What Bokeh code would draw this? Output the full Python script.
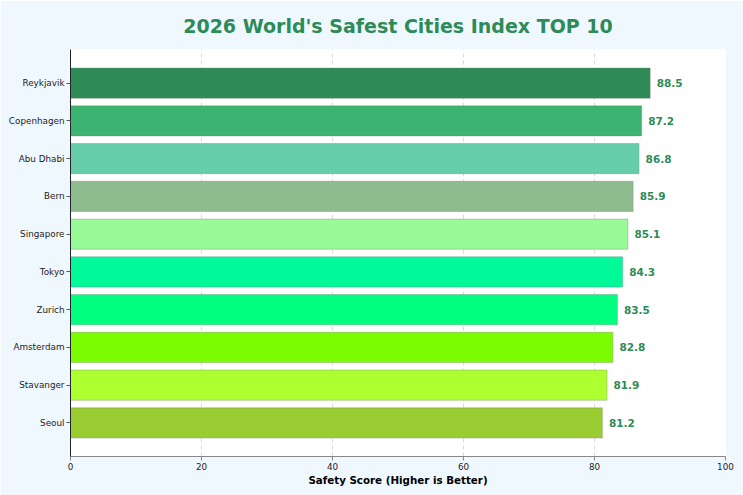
from bokeh.plotting import figure
from bokeh.models import ColumnDataSource, Range1d, FixedTicker, LabelSet
from bokeh.core.properties import value
from bokeh.embed import file_html
from bokeh.resources import INLINE

title_text = "2026 World's Safest Cities Index TOP 10"
cities = ["Reykjavik", "Copenhagen", "Abu Dhabi", "Bern", "Singapore",
          "Tokyo", "Zurich", "Amsterdam", "Stavanger", "Seoul"]
scores = [88.5, 87.2, 86.8, 85.9, 85.1, 84.3, 83.5, 82.8, 81.9, 81.2]
colors = ["#2E8B57", "#3CB371", "#66CDAA", "#8FBC8F", "#98FB98",
          "#00FA9A", "#00FF7F", "#7CFC00", "#ADFF2F", "#9ACD32"]
x_ticks = [0, 20, 40, 60, 80, 100]

n = len(cities)
ypos = [n - 1 - i for i in range(n)]
src = ColumnDataSource(dict(city=cities, score=scores, color=colors, y=ypos,
                            label=[f"{s:.1f}" for s in scores],
                            lx=[s + 1.0 for s in scores]))

p = figure(width=743, height=495, output_backend="svg", toolbar_location=None,
           x_range=Range1d(0, 100), y_range=Range1d(-0.89, n - 1 + 0.89),
           min_border_left=70, min_border_right=18, min_border_top=49, min_border_bottom=39)
p.background_fill_color = "white"
p.border_fill_color = "#F0F8FF"
p.outline_line_color = None

p.hbar(y="y", right="score", left=0, height=0.8, color="color", source=src,
       line_color="#777777", line_alpha=0.35, line_width=1)

labels = LabelSet(x="lx", y="y", text="label", source=src, text_align="left",
                  text_baseline="middle", text_color="#2E8B57",
                  text_font=value("DejaVu Sans"), text_font_style="bold",
                  text_font_size="10.5px")
p.add_layout(labels)

p.title.text = title_text
p.title.text_color = "#2E8B57"
p.title.text_font = "DejaVu Sans"
p.title.text_font_style = "bold"
p.title.text_font_size = "19px"
p.title.align = "center"
p.title.offset = 0
p.title.standoff = 25

p.yaxis.ticker = FixedTicker(ticks=ypos)
p.yaxis.major_label_overrides = {y: c for y, c in zip(ypos, cities)}
p.xaxis.ticker = FixedTicker(ticks=x_ticks)
p.xaxis.axis_label = "Safety Score (Higher is Better)"
p.xaxis.axis_label_text_font = "DejaVu Sans"
p.xaxis.axis_label_text_font_style = "bold"
p.xaxis.axis_label_text_font_size = "10.3px"
p.xaxis.axis_label_text_color = "black"
p.xaxis.axis_label_standoff = 1

for ax in (p.xaxis, p.yaxis):
    ax.major_label_text_font = "DejaVu Sans"
    ax.major_label_text_font_size = "8.8px"
    ax.major_label_text_color = "#222222"
    ax.minor_tick_line_color = None
    ax.major_tick_out = 4
    ax.major_tick_in = 0
    ax.major_label_standoff = 2

p.yaxis.axis_line_color = "#222222"
p.yaxis.major_tick_line_color = "#555555"
p.xaxis.axis_line_color = "#888888"
p.xaxis.major_tick_line_color = "#888888"

p.ygrid.grid_line_color = None
p.xgrid.grid_line_color = "#cccccc"
p.xgrid.grid_line_dash = "4 3"
p.xgrid.grid_line_alpha = 0.7

open("out.html", "w").write(file_html(p, INLINE))
